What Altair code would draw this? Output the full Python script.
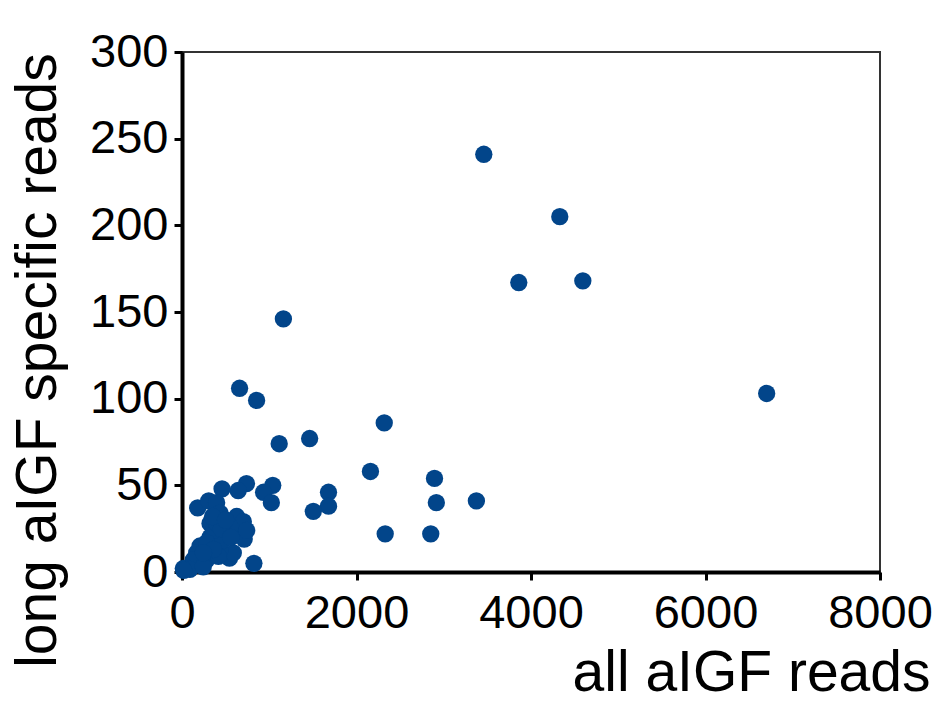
import altair as alt
import pandas as pd

all_reads = [3459, 4330, 3860, 4594, 1162, 6701, 660, 855, 2318, 1114, 1463, 2160,
             2894, 2915, 3374, 2329, 2851, 1679, 1679, 1505, 1040, 935, 1024, 739,
             644, 459, 180, 306, 824, 544, 713, 671,
             397, 436, 321, 627, 703, 741, 588, 436, 321, 206, 168, 130, 283, 15,
             90, 244, 512, 550, 474, 360, 283, 417, 360, 245, 20, 400, 450, 350,
             500, 560]
long_reads = [241, 205, 167, 168, 146, 103, 106, 99, 86, 74, 77, 58,
              54, 40, 41, 22, 22, 46, 38, 35, 50, 46, 40, 51,
              47, 48, 37, 41, 5, 8, 19, 27,
              40, 34, 28, 32, 29, 24, 11, 13, 20, 15, 11, 7, 7, 2,
              1.5, 3, 22, 26, 18.5, 24, 17, 9, 13, 11, 1, 28, 25, 32,
              30, 20]

df = pd.DataFrame({"all": all_reads, "long": long_reads})

chart = alt.Chart(df).mark_circle(size=300, opacity=1, color="#02458a").encode(
    x=alt.X("all:Q", scale=alt.Scale(domain=[0, 8000], nice=False),
            axis=alt.Axis(values=[0, 2000, 4000, 6000, 8000], format="d", title="all aIGF reads",
                          grid=False, domainColor="black", domainWidth=4,
                          tickColor="black", tickWidth=3, tickSize=8,
                          labelFontSize=47, labelFont="Liberation Sans", labelColor="black",
                          labelPadding=10, labelFlush=False,
                          titleFontSize=57, titleFont="Liberation Sans", titleFontWeight="normal",
                          titleColor="black", titleAnchor="end", titleAlign="right",
                          titleX=748, titleY=118, titleBaseline="alphabetic")),
    y=alt.Y("long:Q", scale=alt.Scale(domain=[0, 300], nice=False),
            axis=alt.Axis(values=[0, 50, 100, 150, 200, 250, 300], format="d",
                          title="long aIGF specific reads",
                          grid=False, domainColor="black", domainWidth=4,
                          tickColor="black", tickWidth=3, tickSize=8,
                          labelFontSize=47, labelFont="Liberation Sans", labelColor="black",
                          labelPadding=6, labelFlush=False,
                          titleFontSize=57, titleFont="Liberation Sans", titleFontWeight="normal",
                          titleColor="black", titleAngle=270, titleAlign="center",
                          titleBaseline="middle", titleX=-144, titleY=308)),
).properties(
    width=698, height=520,
    autosize=alt.AutoSizeParams(type="none"),
    padding={"left": 174, "top": 44, "right": 55, "bottom": 122},
).configure_view(stroke="#333333", strokeWidth=2)

chart.save("out.html", embed_options={"renderer": "svg", "actions": False})
